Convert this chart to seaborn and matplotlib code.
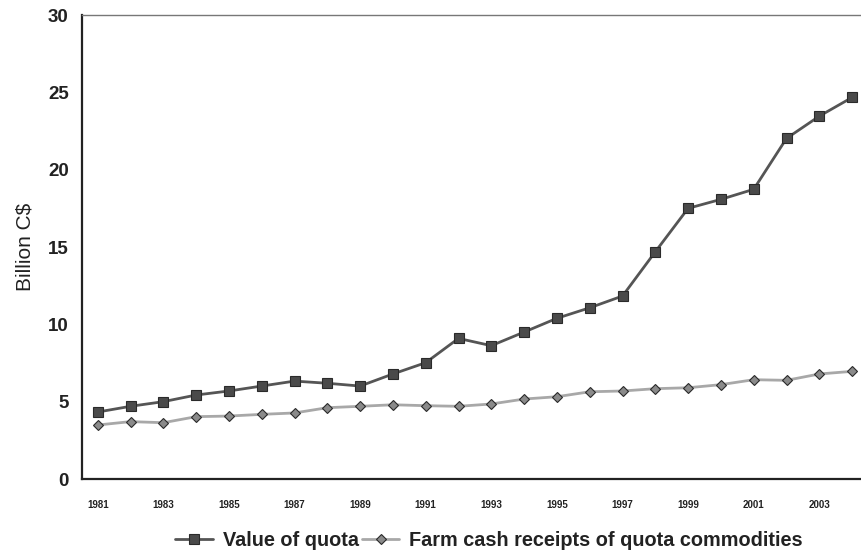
import matplotlib
matplotlib.use("Agg")
import matplotlib.pyplot as plt
from matplotlib import font_manager
import seaborn as sns
import pandas as pd

years = list(range(1981, 2005))
value_of_quota = [4.33, 4.70, 5.00, 5.43, 5.69, 6.01, 6.33, 6.19, 6.01, 6.79, 7.52, 9.09,
                  8.62, 9.50, 10.39, 11.07, 11.83, 14.69, 17.50, 18.08, 18.73, 22.02, 23.46, 24.67]
farm_cash = [3.49, 3.71, 3.64, 4.03, 4.07, 4.18, 4.27, 4.61, 4.70, 4.80, 4.74, 4.70,
             4.85, 5.17, 5.32, 5.64, 5.69, 5.84, 5.90, 6.10, 6.42, 6.38, 6.79, 6.96]
series_names = ["Value of quota", "Farm cash receipts of quota commodities"]
y_ticks = [0, 5, 10, 15, 20, 25, 30]
x_tick_years = list(range(1981, 2004, 2))
x_tick_labels = [str(y) for y in x_tick_years]

sns.set_style("white")
avail = {f.name for f in font_manager.fontManager.ttflist}
base = "Liberation Sans" if "Liberation Sans" in avail else "DejaVu Sans"
plt.rcParams["font.family"] = [base, "DejaVu Sans"]

df = pd.DataFrame({
    "year": years * 2,
    "value": value_of_quota + farm_cash,
    "series": [series_names[0]] * len(years) + [series_names[1]] * len(years),
})

fig = plt.figure(figsize=(8.62, 5.5), dpi=100)
ax = fig.add_axes([82 / 862, 71 / 550, 780 / 862, 464 / 550])

sns.lineplot(data=df[df.series == series_names[0]], x="year", y="value", ax=ax,
             color="#555555", lw=2.0, marker="s", markersize=7.5,
             markerfacecolor="#4a4a4a", markeredgecolor="#2a2a2a", markeredgewidth=0.8,
             label=series_names[0])
sns.lineplot(data=df[df.series == series_names[1]], x="year", y="value", ax=ax,
             color="#a8a8a8", lw=2.0, marker="D", markersize=5,
             markerfacecolor="#8a8a8a", markeredgecolor="#2a2a2a", markeredgewidth=0.8,
             label=series_names[1])

x0 = 1981 - 15.7 / 32.8
ax.set_xlim(x0, x0 + 780 / 32.8)
ax.set_ylim(0, 30)
ax.set_yticks(y_ticks)
ax.set_yticklabels([str(t) for t in y_ticks], fontsize=13.5, fontweight="bold", color="#222222")
ax.set_xticks(x_tick_years)
ax.set_xticklabels(x_tick_labels, fontsize=7, fontweight="bold", color="#222222")
ax.tick_params(axis="x", length=0, pad=15)
ax.tick_params(axis="y", length=0, pad=9.5)
ax.set_xlabel("")
ax.set_ylabel("Billion C$", fontsize=15, color="#222222", labelpad=10)

for side in ["left", "bottom"]:
    ax.spines[side].set_color("#222222")
    ax.spines[side].set_linewidth(1.6)
ax.spines["top"].set_color("#777777")
ax.spines["top"].set_linewidth(1.0)
ax.spines["right"].set_visible(False)

leg = ax.legend(loc="center", bbox_to_anchor=(489 / 862, 10 / 550), bbox_transform=fig.transFigure,
                ncol=2, frameon=False, handlelength=1.9, columnspacing=0.15, handletextpad=0.5,
                borderpad=0, borderaxespad=0,
                prop={"weight": "bold", "size": 14.3})
for t in leg.get_texts():
    t.set_color("#222222")

fig.savefig("out.png", dpi=100)
